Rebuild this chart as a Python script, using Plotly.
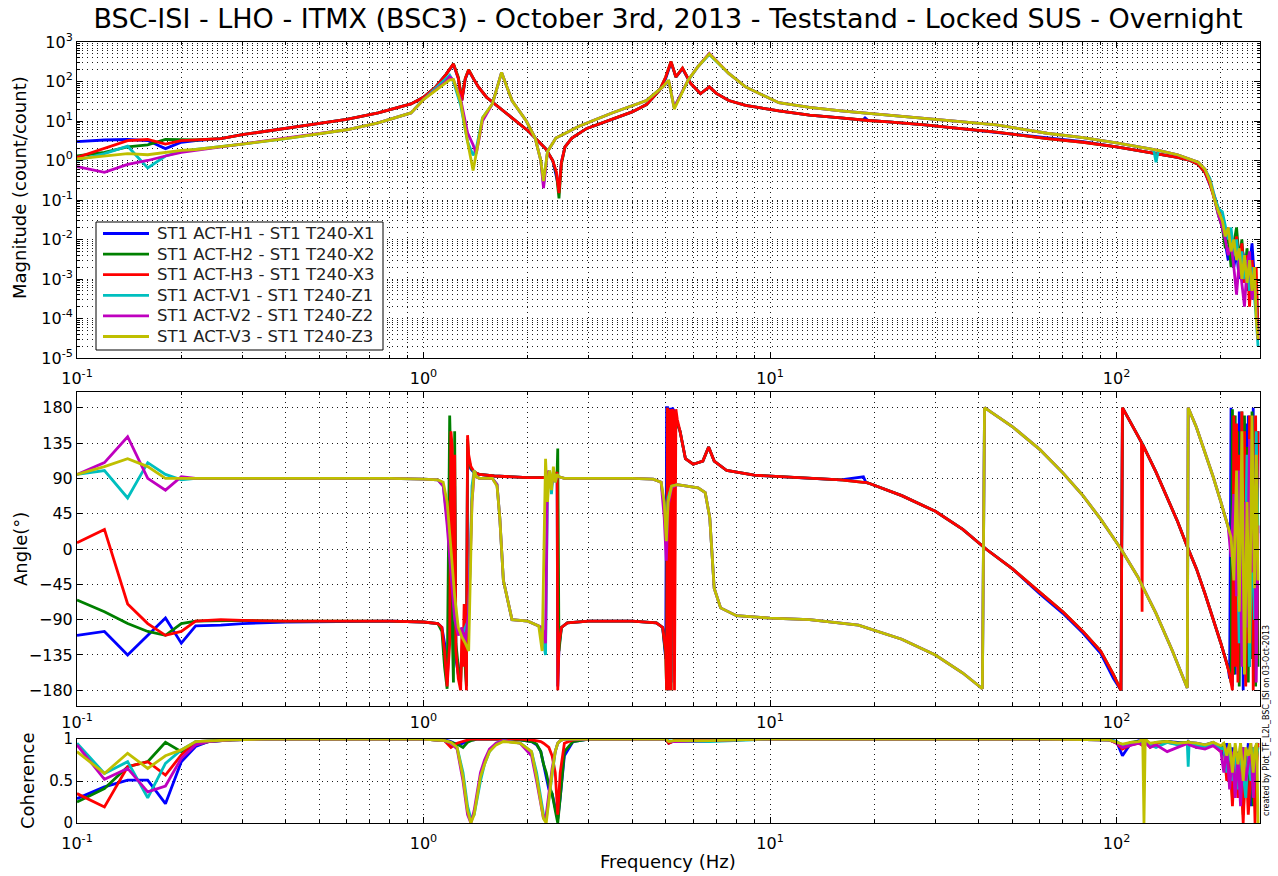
import plotly.graph_objects as go

# ---------------------------------------------------------------- labels / style
TITLE = "BSC-ISI - LHO - ITMX (BSC3) - October 3rd, 2013 - Teststand - Locked SUS - Overnight"
NAMES = [
    "ST1 ACT-H1 - ST1 T240-X1",
    "ST1 ACT-H2 - ST1 T240-X2",
    "ST1 ACT-H3 - ST1 T240-X3",
    "ST1 ACT-V1 - ST1 T240-Z1",
    "ST1 ACT-V2 - ST1 T240-Z2",
    "ST1 ACT-V3 - ST1 T240-Z3",
]
COLORS = ["#0000FF", "#008000", "#FF0000", "#00BFBF", "#BF00BF", "#BFBF00"]

# ---------------------------------------------------------------- magnitude, horizontal loops
MAG_F_H = [
    0.10, 0.12, 0.14, 0.16, 0.18, 0.20, 0.22, 0.26, 0.30, 0.40,
    0.50, 0.60, 0.74, 0.92, 1.00, 1.08, 1.16, 1.22, 1.26, 1.29,
    1.32, 1.35, 1.40, 1.44, 1.52, 1.61, 1.80, 2.01, 2.25, 2.36,
    2.42, 2.46, 2.50, 2.56, 2.68, 2.96, 3.50, 4.00, 4.40, 4.80,
    5.00, 5.18, 5.35, 5.59, 5.90, 6.30, 6.68, 7.00, 7.60, 8.50,
    10.6, 13.0, 16.0, 18.5, 18.8, 19.2, 22.0, 28.0, 35.0, 45.0,
    63, 80, 100, 120, 132, 150, 163, 172, 180, 186,
    192, 197, 202, 206, 210, 214, 218, 222, 226, 230,
    234, 238, 242, 246, 250, 253, 256,
]
MAG_H1 = [
    3.0, 3.3, 3.4, 3.2, 2.0, 2.9, 3.2, 3.6, 4.5, 6.5,
    8.5, 11, 16, 27, 40, 70, 150, 270, 120, 33,
    115, 190, 110, 73, 40, 27, 12, 5.5, 2.0, 1.0,
    0.4, 0.2, 0.9, 2.2, 3.7, 6.5, 11, 17, 26, 60,
    120, 300, 130, 210, 90, 49, 73, 50, 33, 25,
    18, 14, 12, 10.5, 12, 10.3, 9.5, 8.0, 6.5, 5.2,
    3.7, 3.0, 2.2, 1.7, 1.45, 1.2, 1.0, 0.8, 0.5, 0.25,
    0.12, 0.05, 0.02, 0.008, 0.003, 0.01, 0.002, 0.005, 0.001, 0.006,
    0.003, 0.0005, 0.002, 0.008, 0.001, 0.0003, 0.00004,
]
MAG_H2 = [
    1.3, 1.6, 2.2, 2.5, 3.4, 3.4, 3.3, 3.6, 4.5, 6.5,
    8.5, 11, 16, 27, 40, 70, 150, 280, 130, 35,
    120, 200, 110, 73, 40, 27, 12, 5.5, 2.0, 1.0,
    0.45, 0.11, 0.8, 2.2, 3.7, 6.5, 11, 17, 26, 60,
    130, 320, 130, 218, 90, 49, 73, 50, 33, 25,
    18, 14, 12, 10.5, 10.5, 10.3, 9.5, 8.0, 6.5, 5.2,
    3.6, 2.9, 2.2, 1.7, 1.45, 1.2, 1.0, 0.8, 0.5, 0.3,
    0.1, 0.04, 0.02, 0.006, 0.015, 0.002, 0.008, 0.02, 0.003, 0.01,
    0.001, 0.006, 0.0006, 0.002, 0.0003, 0.001, 0.00005,
]
MAG_H3 = [
    1.2, 2.0, 3.2, 3.4, 2.6, 3.2, 3.3, 3.6, 4.5, 6.5,
    8.5, 11, 16, 27, 40, 70, 150, 280, 120, 33,
    120, 197, 110, 73, 40, 27, 12, 5.5, 2.0, 1.0,
    0.5, 0.15, 0.9, 2.2, 3.7, 6.5, 11, 17, 26, 60,
    130, 320, 130, 218, 90, 49, 73, 50, 33, 25,
    18, 14, 12, 10.5, 10.5, 10.3, 9.5, 8.0, 6.5, 5.2,
    3.6, 2.9, 2.2, 1.7, 1.45, 1.2, 1.0, 0.8, 0.5, 0.25,
    0.1, 0.06, 0.03, 0.012, 0.02, 0.006, 0.004, 0.012, 0.002, 0.008,
    0.0008, 0.004, 0.0002, 0.003, 0.0006, 0.002, 0.00003,
]

# ---------------------------------------------------------------- magnitude, vertical loops
MAG_F_V = [
    0.10, 0.12, 0.14, 0.16, 0.18, 0.20, 0.22, 0.26, 0.30, 0.40,
    0.50, 0.60, 0.74, 0.92, 1.00, 1.10, 1.16, 1.19, 1.22, 1.28,
    1.34, 1.39, 1.42, 1.48, 1.58, 1.68, 1.80, 1.98, 2.10, 2.18,
    2.22, 2.28, 2.41, 2.81, 3.50, 4.40, 4.90, 5.10, 5.29, 5.80,
    6.20, 6.68, 7.60, 8.50, 10.6, 13.0, 16.0, 22.0, 28.0, 35.0,
    45, 63, 80, 100, 120, 128, 130, 132, 150, 163,
    172, 180, 186, 192, 197, 202, 206, 210, 214, 218,
    222, 226, 230, 234, 238, 242, 246, 250, 253, 256,
]
MAG_V1 = [
    1.0, 1.5, 2.3, 0.65, 1.3, 1.7, 1.9, 2.2, 2.6, 3.6,
    4.7, 6.0, 9.0, 16, 35, 75, 120, 145, 100, 25,
    3, 1.35, 2, 12, 27, 170, 33, 10, 3.7, 1.0,
    0.25, 1.7, 3.7, 7.4, 16, 33, 73, 100, 22, 105,
    240, 480, 160, 73, 29, 22, 18, 14, 11.5, 9.5,
    8, 4.9, 3.8, 2.8, 2.1, 1.9, 0.9, 1.8, 1.4, 1.1,
    0.9, 0.6, 0.35, 0.12, 0.06, 0.05, 0.02, 0.01, 0.02, 0.004,
    0.01, 0.002, 0.005, 0.001, 0.003, 0.0005, 0.002, 0.0004, 0.0001, 0.00002,
]
MAG_V2 = [
    0.7, 0.5, 0.8, 1.0, 1.3, 1.6, 1.8, 2.2, 2.6, 3.6,
    4.7, 6.0, 9.0, 16, 35, 70, 100, 130, 110, 35,
    5, 2.5, 1.5, 10, 27, 170, 33, 10, 3.7, 1.0,
    0.2, 1.7, 3.7, 7.4, 16, 33, 73, 105, 22, 108,
    240, 520, 160, 73, 29, 22, 18, 14, 11.5, 9.5,
    8, 4.9, 3.8, 2.8, 2.1, 1.9, 1.85, 1.8, 1.4, 1.1,
    0.9, 0.6, 0.3, 0.1, 0.04, 0.02, 0.01, 0.004, 0.008, 0.002,
    0.0004, 0.003, 0.0008, 0.0002, 0.002, 0.005, 0.0003, 0.001, 0.0002, 0.00003,
]
MAG_V3 = [
    1.1, 1.3, 1.5, 1.4, 1.6, 1.8, 1.9, 2.2, 2.6, 3.6,
    4.7, 6.0, 9.0, 16, 35, 65, 90, 110, 112, 30,
    3, 0.56, 1.5, 12, 27, 170, 33, 10, 3.7, 1.0,
    0.3, 1.7, 3.7, 7.4, 16, 33, 73, 108, 20, 108,
    240, 500, 160, 73, 29, 22, 18, 14, 11.5, 9.5,
    8, 4.9, 3.8, 2.8, 2.1, 1.9, 1.85, 1.8, 1.4, 1.1,
    0.9, 0.6, 0.3, 0.1, 0.05, 0.03, 0.012, 0.02, 0.005, 0.01,
    0.003, 0.006, 0.001, 0.004, 0.0008, 0.003, 0.0005, 0.002, 0.0001, 0.00003,
]

# ---------------------------------------------------------------- phase, horizontal loops
PH_F_H = [
    0.10, 0.12, 0.14, 0.16, 0.18, 0.20, 0.22, 0.26, 0.30, 0.40,
    0.60, 0.80, 1.00, 1.10, 1.13, 1.15, 1.17, 1.19, 1.20, 1.21,
    1.22, 1.23, 1.24, 1.26, 1.28, 1.29, 1.30, 1.31, 1.32, 1.33,
    1.34, 1.35, 1.37, 1.40, 1.45, 1.60, 2.00, 2.30, 2.40, 2.43,
    2.44, 2.46, 2.50, 2.60, 3.00, 4.00, 4.70, 4.90, 5.00, 5.03,
    5.06, 5.10, 5.14, 5.18, 5.22, 5.26, 5.30, 5.35, 5.40, 5.50,
    5.70, 6.00, 6.40, 6.65, 6.90, 7.50, 9.00, 12.0, 16.0, 18.6,
    18.9, 19.2, 24.0, 30.0, 36.0, 42.0, 50.0, 60.0, 70.0, 80.0,
    90, 98, 103, 104, 110, 118, 118.5, 119, 130, 140,
    150, 160, 170, 180, 190, 200, 205, 210, 212, 214,
    216, 218, 220, 222, 224, 226, 228, 230, 232, 234,
    236, 238, 240, 242, 244, 246, 248, 250, 252, 254,
    256,
]
PH_H1 = [
    -110, -105, -135, -110, -88, -120, -98, -97, -95, -93,
    -92, -92, -93, -95, -100, -120, -170, -100, 110, 60,
    -90, 80, -140, -160, -150, -140, -130, -100, -130, -170,
    120, 110, 102, 97, 95, 93, 91, 91, 93, 98,
    -175, -125, -100, -94, -92, -92, -94, -100, -140, 180,
    180, -180, 180, -170, 180, 178, 175, 170, 160, 150,
    115, 108, 112, 130, 112, 100, 94, 91, 88, 92,
    85, 84, 68, 48, 25, 0, -25, -57, -82, -107,
    -133, -165, -180, 180, 161, 136, 134, 133, 98, 66,
    35, 3, -25, -57, -88, -120, -136, -152, -165, 180,
    -175, 160, -160, 100, -120, 175, -40, 150, -180, 60,
    160, -110, 170, -150, 90, -60, 180, -170, 120, -90,
    150,
]
PH_H2 = [
    -65, -80, -95, -105, -110, -95, -92, -91, -91, -92,
    -92, -92, -93, -95, -105, -150, -178, 170, 100, -100,
    -170, 150, -120, -150, -170, -120, -100, -130, -150, -175,
    140, 115, 103, 98, 95, 93, 91, 91, 93, 98,
    128, -130, -100, -94, -92, -92, -94, -100, -135, -180,
    180, -180, 175, -180, 175, 170, 172, 168, 160, 150,
    115, 108, 112, 130, 112, 100, 94, 91, 88, 85,
    85, 84, 68, 48, 25, 0, -25, -55, -80, -105,
    -130, -160, -180, 180, 161, 136, 134, 133, 98, 66,
    35, 3, -25, -57, -88, -120, -136, -152, -158, -170,
    178, -160, 170, -120, 150, -175, 60, 175, -100, 170,
    -30, 130, -170, 100, -140, 175, -80, 150, -175, 40,
    -150,
]
PH_H3 = [
    8, 25, -70, -95, -110, -105, -92, -90, -91, -92,
    -92, -92, -93, -95, -100, -130, -175, -120, 150, 130,
    -60, 120, -130, -165, -180, -110, -150, -70, -120, -180,
    145, 120, 105, 98, 95, 93, 91, 91, 93, 98,
    -180, -120, -100, -94, -92, -92, -94, -100, -130, -180,
    180, -180, 178, -180, 178, 175, -180, 178, 165, 150,
    115, 108, 112, 130, 112, 100, 94, 91, 88, 85,
    85, 84, 68, 48, 25, 0, -25, -55, -80, -105,
    -130, -160, -180, 180, 161, 136, -80, 133, 98, 66,
    35, 3, -25, -57, -88, -120, -136, -152, -160, -170,
    -180, 170, -150, 160, -170, 120, -100, 175, -40, 150,
    -175, 90, -120, 170, -60, 130, -180, 60, 170, -140,
    150,
]

# ---------------------------------------------------------------- phase, vertical loops
PH_F_V = [
    0.10, 0.12, 0.14, 0.16, 0.18, 0.20, 0.22, 0.26, 0.30, 0.40,
    0.60, 0.80, 1.00, 1.10, 1.14, 1.17, 1.20, 1.23, 1.26, 1.29,
    1.32, 1.35, 1.38, 1.40, 1.42, 1.45, 1.50, 1.58, 1.63, 1.66,
    1.70, 1.80, 2.00, 2.15, 2.20, 2.25, 2.28, 2.31, 2.34, 2.37,
    2.40, 2.43, 2.46, 2.55, 3.00, 4.00, 4.60, 4.85, 4.95, 5.02,
    5.08, 5.20, 5.40, 5.80, 6.20, 6.50, 6.70, 6.90, 7.20, 8.00,
    10.0, 13.0, 18.0, 24.0, 30.0, 36.0, 41.0, 41.6, 50.0, 60.0,
    70, 80, 90, 103, 115, 130, 145, 160, 161, 170,
    180, 190, 200, 205, 210, 214, 218, 222, 226, 230,
    234, 238, 242, 246, 250, 253, 256,
]
PH_V1 = [
    95, 100, 65, 110, 95, 88, 90, 90, 90, 90,
    90, 90, 89, 88, 80, 40, -20, -80, -105, -110,
    -100, -90, 80, 100, 92, 90, 90, 90, 82, 40,
    -40, -90, -92, -98, -110, -135, 80, 100, 70, 100,
    85, 95, 92, 90, 90, 90, 89, 85, 55, 20,
    65, 80, 82, 80, 78, 72, 40, -50, -75, -85,
    -88, -90, -97, -115, -135, -158, -178, 180, 156, 127,
    97, 68, 38, 0, -35, -82, -130, -177, 180, 155,
    123, 92, 60, 44, 28, 10, -30, 60, -120, 90,
    -60, 120, -150, 40, -90, 150, 20,
]
PH_V2 = [
    95, 110, 143, 90, 75, 92, 90, 90, 90, 90,
    90, 90, 89, 88, 80, 30, -30, -90, -110, -100,
    -120, -80, 60, 95, 92, 90, 90, 90, 82, 40,
    -40, -90, -92, -98, -100, -120, 100, 90, 80, 95,
    88, 92, 92, 90, 90, 90, 89, 85, 40, -15,
    55, 78, 82, 80, 78, 72, 40, -50, -75, -85,
    -88, -90, -97, -115, -135, -158, -178, 180, 156, 127,
    97, 68, 38, 0, -35, -82, -130, -177, 180, 155,
    123, 92, 60, 44, 28, -10, 70, -60, 100, -150,
    60, -100, 140, -30, 90, -170, 30,
]
PH_V3 = [
    95, 105, 115, 105, 90, 90, 90, 90, 90, 90,
    90, 90, 89, 88, 85, 60, 0, -60, -100, -112,
    -120, -130, 60, 100, 92, 90, 90, 90, 80, 40,
    -40, -90, -92, -98, -130, 115, 60, 100, 75, 105,
    85, 95, 92, 90, 90, 90, 89, 85, 60, 10,
    60, 80, 82, 80, 78, 72, 40, -50, -75, -85,
    -88, -90, -97, -115, -135, -158, -178, 180, 156, 127,
    97, 68, 38, 0, -35, -82, -130, -177, 180, 155,
    123, 92, 60, 44, 28, 15, -40, 100, -80, 150,
    -160, 60, -120, 170, -50, 120, -40,
]

# ---------------------------------------------------------------- coherence
COH_F = [
    0.10, 0.12, 0.14, 0.16, 0.18, 0.20, 0.22, 0.24, 0.28, 0.35,
    0.50, 1.00, 1.15, 1.20, 1.25, 1.30, 1.34, 1.37, 1.40, 1.43,
    1.46, 1.50, 1.55, 1.62, 1.70, 1.90, 2.05, 2.12, 2.18, 2.22,
    2.26, 2.30, 2.35, 2.40, 2.44, 2.48, 2.55, 2.70, 3.00, 5.00,
    5.10, 5.30, 6.70, 10.0, 20.0, 60.0, 95.0, 100, 104, 110,
    116, 119, 120, 121, 125, 130, 140, 150, 160, 161,
    162, 170, 180, 190, 200, 204, 208, 212, 216, 220,
    224, 228, 232, 236, 240, 244, 248, 251, 254, 256,
]
COH_H1 = [
    0.29, 0.43, 0.51, 0.51, 0.23, 0.73, 0.91, 0.97, 0.99, 1.0,
    1.0, 1.0, 0.99, 0.97, 0.93, 0.95, 0.98, 0.99, 0.99, 1.0,
    1.0, 1.0, 1.0, 1.0, 1.0, 0.99, 0.97, 0.93, 0.85, 0.7,
    0.55, 0.4, 0.35, 0.2, 0.05, 0.3, 0.8, 0.97, 1.0, 1.0,
    0.95, 0.98, 0.99, 1.0, 1.0, 1.0, 0.99, 0.97, 0.8, 0.95,
    0.98, 0.97, 0.96, 0.98, 0.93, 0.95, 0.97, 0.96, 0.95, 0.97,
    0.96, 0.95, 0.93, 0.96, 0.9, 0.8, 0.95, 0.6, 0.9, 0.4,
    0.85, 0.3, 0.9, 0.55, 0.95, 0.2, 0.8, 0.5, 0.9, 0.95,
]
COH_H2 = [
    0.25, 0.41, 0.67, 0.73, 0.96, 0.85, 0.93, 0.97, 0.99, 1.0,
    1.0, 1.0, 0.98, 0.96, 0.94, 0.9, 0.96, 0.98, 0.99, 1.0,
    1.0, 1.0, 1.0, 1.0, 1.0, 0.99, 0.97, 0.94, 0.85, 0.7,
    0.6, 0.45, 0.35, 0.15, 0.0, 0.3, 0.85, 0.97, 1.0, 1.0,
    0.96, 0.98, 0.99, 1.0, 1.0, 1.0, 0.99, 0.96, 0.92, 0.96,
    0.97, 0.95, 0.96, 0.98, 0.93, 0.96, 0.97, 0.95, 0.96, 0.97,
    0.96, 0.9, 0.92, 0.95, 0.88, 0.95, 0.7, 0.9, 0.3, 0.85,
    0.5, 0.95, 0.1, 0.8, 0.4, 0.9, 0.2, 0.7, 0.95, 0.9,
]
COH_H3 = [
    0.35, 0.19, 0.67, 0.73, 0.57, 0.81, 0.97, 0.98, 0.99, 1.0,
    1.0, 1.0, 0.98, 0.9, 0.95, 0.97, 0.99, 1.0, 1.0, 1.0,
    1.0, 1.0, 1.0, 1.0, 1.0, 1.0, 0.99, 0.98, 0.97, 0.95,
    0.93, 0.9, 0.8, 0.6, 0.1, 0.6, 0.95, 0.99, 1.0, 1.0,
    0.95, 0.98, 0.99, 1.0, 1.0, 1.0, 0.99, 0.95, 0.88, 0.93,
    0.95, 0.92, 0.94, 0.97, 0.9, 0.95, 0.96, 0.94, 0.95, 0.96,
    0.95, 0.92, 0.9, 0.93, 0.85, 0.9, 0.5, 0.85, 0.2, 0.9,
    0.3, 0.7, 0.0, 0.8, 0.1, 0.6, 0.9, 0.0, 0.7, 0.95,
]
COH_V1 = [
    0.95, 0.59, 0.73, 0.30, 0.71, 0.87, 0.97, 0.98, 0.99, 1.0,
    1.0, 1.0, 0.98, 0.95, 0.9, 0.6, 0.2, 0.05, 0.1, 0.3,
    0.5, 0.7, 0.85, 0.95, 0.98, 0.95, 0.85, 0.6, 0.3, 0.1,
    0.05, 0.3, 0.6, 0.85, 0.95, 0.98, 1.0, 1.0, 1.0, 1.0,
    0.98, 0.97, 0.97, 1.0, 1.0, 1.0, 0.99, 0.97, 0.93, 0.95,
    0.96, 0.95, 0.94, 0.97, 0.93, 0.9, 0.96, 0.93, 0.95, 0.67,
    0.95, 0.93, 0.9, 0.95, 0.88, 0.9, 0.6, 0.95, 0.5, 0.85,
    0.4, 0.9, 0.6, 0.3, 0.85, 0.5, 0.9, 0.6, 0.8, 0.9,
]
COH_V2 = [
    0.93, 0.52, 0.65, 0.37, 0.44, 0.77, 0.93, 0.97, 0.99, 1.0,
    1.0, 1.0, 0.98, 0.95, 0.88, 0.5, 0.1, 0.0, 0.15, 0.4,
    0.6, 0.75, 0.88, 0.95, 0.98, 0.95, 0.8, 0.5, 0.2, 0.05,
    0.1, 0.35, 0.65, 0.85, 0.95, 0.98, 1.0, 1.0, 1.0, 1.0,
    0.97, 0.97, 0.98, 1.0, 1.0, 1.0, 0.99, 0.95, 0.9, 0.93,
    0.95, 0.93, 0.92, 0.96, 0.9, 0.93, 0.85, 0.9, 0.94, 0.95,
    0.93, 0.9, 0.88, 0.92, 0.85, 0.6, 0.9, 0.4, 0.85, 0.3,
    0.8, 0.2, 0.9, 0.5, 0.7, 0.95, 0.3, 0.7, 0.9, 0.9,
]
COH_V3 = [
    0.85, 0.59, 0.83, 0.65, 0.80, 0.87, 0.97, 0.98, 0.99, 1.0,
    1.0, 1.0, 0.98, 0.96, 0.9, 0.55, 0.15, 0.0, 0.1, 0.35,
    0.55, 0.7, 0.85, 0.93, 0.97, 0.95, 0.85, 0.55, 0.25, 0.05,
    0.0, 0.3, 0.6, 0.85, 0.95, 0.98, 1.0, 1.0, 1.0, 1.0,
    0.97, 0.98, 0.98, 1.0, 1.0, 1.0, 0.99, 0.96, 0.94, 0.96,
    0.97, 1.0, 0.0, 1.0, 0.95, 0.96, 0.97, 0.95, 0.96, 0.97,
    0.96, 0.95, 0.93, 0.96, 0.92, 0.95, 0.8, 0.95, 0.6, 0.95,
    0.7, 0.95, 0.5, 0.9, 0.8, 0.95, 0.6, 0.9, 0.95, 0.0,
]

X_TICKS = [0.1, 1, 10, 100]
X_TICKTEXT = ["10<sup>-1</sup>", "10<sup>0</sup>", "10<sup>1</sup>", "10<sup>2</sup>"]
MAG_TICKS = [1e-5, 1e-4, 1e-3, 1e-2, 1e-1, 1, 10, 100, 1000]
MAG_TICKTEXT = ["10<sup>-5</sup>", "10<sup>-4</sup>", "10<sup>-3</sup>", "10<sup>-2</sup>",
                "10<sup>-1</sup>", "10<sup>0</sup>", "10<sup>1</sup>", "10<sup>2</sup>",
                "10<sup>3</sup>"]
PH_TICKS = [-180, -135, -90, -45, 0, 45, 90, 135, 180]
COH_TICKS = [0, 0.5, 1]

# ---------------------------------------------------------------- geometry (pixels)
W, H = 1278, 876
L, R, T, B = 77, 1260, 42, 823
FONT = "DejaVu Sans, Liberation Sans, sans-serif"
LINE_W = 2.8


def px_x(px):
    return (px - L) / (R - L)


def px_y(py):
    return (B - py) / (B - T)


mag_series = [(MAG_F_H, MAG_H1), (MAG_F_H, MAG_H2), (MAG_F_H, MAG_H3),
              (MAG_F_V, MAG_V1), (MAG_F_V, MAG_V2), (MAG_F_V, MAG_V3)]
ph_series = [(PH_F_H, PH_H1), (PH_F_H, PH_H2), (PH_F_H, PH_H3),
             (PH_F_V, PH_V1), (PH_F_V, PH_V2), (PH_F_V, PH_V3)]
coh_series = [COH_H1, COH_H2, COH_H3, COH_V1, COH_V2, COH_V3]

fig = go.Figure()
for i in range(6):
    line = dict(color=COLORS[i], width=LINE_W)
    fig.add_trace(go.Scatter(x=mag_series[i][0], y=mag_series[i][1], mode="lines",
                             line=line, name=NAMES[i], showlegend=False,
                             xaxis="x", yaxis="y"))
for i in range(6):
    line = dict(color=COLORS[i], width=LINE_W)
    fig.add_trace(go.Scatter(x=ph_series[i][0], y=ph_series[i][1], mode="lines",
                             line=line, name=NAMES[i], showlegend=False,
                             xaxis="x2", yaxis="y2"))
for i in range(6):
    line = dict(color=COLORS[i], width=LINE_W)
    fig.add_trace(go.Scatter(x=COH_F, y=coh_series[i], mode="lines",
                             line=line, name=NAMES[i], showlegend=False,
                             xaxis="x3", yaxis="y3"))

minor_x = [k * 10 ** d for d in range(-1, 3) for k in range(2, 10) if k * 10 ** d < 260]
minor_mag = [k * 10.0 ** d for d in range(-5, 3) for k in range(2, 10)]

DOT = "1px,4px"
GRIDC = "#1a1a1a"
tickfont = dict(family=FONT, size=16, color="black")

common_x = dict(type="log", range=[-1, 2.414], tickvals=X_TICKS, ticktext=X_TICKTEXT,
                ticks="inside", ticklen=6, tickcolor="black", showline=True,
                linecolor="black", linewidth=1, mirror="allticks",
                showgrid=True, gridcolor=GRIDC, griddash=DOT, gridwidth=1,
                tickfont=tickfont, zeroline=False, ticklabelstandoff=6,
                minor=dict(tickvals=minor_x, ticks="inside", ticklen=3,
                           tickcolor="black", showgrid=True, gridcolor=GRIDC,
                           griddash=DOT, gridwidth=1))
common_y = dict(ticks="inside", ticklen=6, tickcolor="black", showline=True,
                linecolor="black", linewidth=1, mirror="allticks",
                showgrid=True, gridcolor=GRIDC, griddash=DOT, gridwidth=1,
                tickfont=tickfont, zeroline=False)

fig.update_layout(
    width=W, height=H,
    margin=dict(l=L, r=W - R, t=T, b=H - B),
    paper_bgcolor="white", plot_bgcolor="white",
    font=dict(family=FONT, color="black"),
    title=dict(text=TITLE, x=668 / W, xref="container", xanchor="center",
               y=1 - 19 / H, yref="container", yanchor="middle",
               font=dict(family=FONT, size=27, color="black")),
    xaxis=dict(common_x, anchor="y", domain=[0, 1]),
    xaxis2=dict(common_x, anchor="y2", domain=[0, 1], ticklabelstandoff=2),
    xaxis3=dict(common_x, anchor="y3", domain=[0, 1]),
    yaxis=dict(common_y, type="log", range=[-5, 3], tickvals=MAG_TICKS,
               ticktext=MAG_TICKTEXT, anchor="x",
               domain=[px_y(358), 1],
               minor=dict(tickvals=minor_mag, ticks="inside", ticklen=3,
                          tickcolor="black", showgrid=True, gridcolor=GRIDC,
                          griddash=DOT, gridwidth=1)),
    yaxis2=dict(common_y, range=[-200, 200], tickvals=PH_TICKS, anchor="x2",
                domain=[px_y(706), px_y(392)]),
    yaxis3=dict(common_y, range=[0, 1], tickvals=COH_TICKS, anchor="x3",
                domain=[0, px_y(739)], tickfont=dict(family=FONT, size=15, color="black")),
    showlegend=False,
)

# legend box drawn in the upper panel's lower-left corner
LEG_X0, LEG_X1, LEG_Y0, LEG_Y1 = 96, 383, 222, 350
LEG_ROW0, LEG_ROW_STEP = 233.5, 20.6
shapes = [dict(type="rect", xref="paper", yref="paper",
               x0=px_x(LEG_X0), x1=px_x(LEG_X1), y0=px_y(LEG_Y1), y1=px_y(LEG_Y0),
               line=dict(color="black", width=1), fillcolor="white", layer="above")]
annots = []
for i, name in enumerate(NAMES):
    yy = px_y(LEG_ROW0 + i * LEG_ROW_STEP)
    shapes.append(dict(type="line", xref="paper", yref="paper",
                       x0=px_x(103), x1=px_x(149), y0=yy, y1=yy,
                       line=dict(color=COLORS[i], width=LINE_W), layer="above"))
    annots.append(dict(text=name, x=px_x(155), y=yy, xanchor="left",
                       font=dict(size=16.5, color="#222222")))

annots += [
    dict(text="Magnitude (count/count)", x=px_x(20), y=px_y(188), textangle=-90,
         font=dict(size=18)),
    dict(text="Angle(°)", x=px_x(20), y=px_y(549), textangle=-90, font=dict(size=18)),
    dict(text="Coherence", x=px_x(27), y=px_y(781), textangle=-90, font=dict(size=18)),
    dict(text="Frequency (Hz)", x=px_x(668), y=px_y(861), font=dict(size=18)),
    dict(text="created by Plot_TF_L2L_BSC_ISI on 03-Oct-2013", x=px_x(1266),
         y=px_y(721), textangle=-90, font=dict(size=8)),
]
for a in annots:
    a.setdefault("xanchor", "center")
    a.update(xref="paper", yref="paper", showarrow=False, yanchor="middle")
    a["font"] = dict(dict(family=FONT, color="black"), **a["font"])
fig.update_layout(annotations=annots, shapes=shapes)

fig.write_html("out.html")
